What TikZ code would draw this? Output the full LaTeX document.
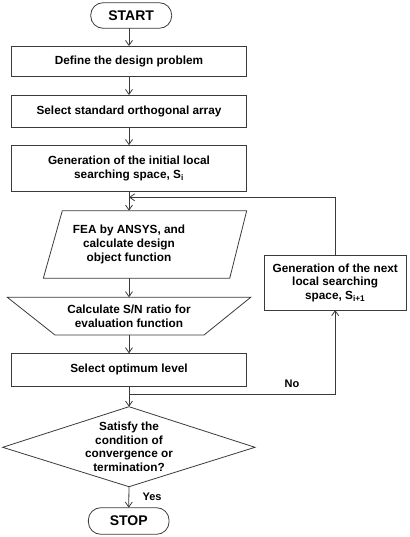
\documentclass[tikz,border=0pt]{standalone}
\usepackage{fontspec}
\setmainfont{Liberation Sans}
\usetikzlibrary{arrows.meta,calc}
\definecolor{linec}{HTML}{3A3A3A}
\begin{document}
\begin{tikzpicture}[x=1pt,y=-1pt,
  line width=0.8pt,
  every node/.style={font=\bfseries\fontsize{11.8}{13.6}\selectfont, align=center, inner sep=0pt, outer sep=0pt, text=black},
  proc/.style={draw=linec, minimum width=234.4pt},
  term/.style={draw=linec, rounded corners=12.5pt, font=\bfseries\fontsize{14}{16}\selectfont},
  holder/.style={draw=none},
  shp/.style={draw=linec},
  lbl/.style={font=\bfseries\fontsize{11}{13}\selectfont},
  arr/.style={draw=linec, -{Straight Barb[length=5pt,width=7pt]}},
  ln/.style={draw=linec},
]
\useasboundingbox (0,0) rectangle (409,537);

% shapes drawn directly
\draw[shp] (62.3,210.7) -- (246.7,210.7) -- (229.7,278.3) -- (43.3,278.3) -- cycle;
\draw[shp] (7.3,297.3) -- (250.7,297.3) -- (204,335) -- (55,335) -- cycle;
\draw[shp] (129,406.7) -- (255,447.3) -- (129,486.7) -- (2.7,447.3) -- cycle;

% nodes
\node[term, minimum width=81pt, minimum height=25.6pt] (start) at (131.2,15.5) {START};
\node[proc, minimum height=30.7pt] (b1) at (129,61.4) {Define the design problem};
\node[proc, minimum height=32.3pt] (b2) at (129,111.2) {Select standard orthogonal array};
\node[proc, minimum height=46.7pt] (b3) at (129,168.5) {Generation of the initial local\\searching space, S\textsubscript{i}};
\node[holder, minimum height=67.6pt] (fea) at (129,244.5) {FEA by ANSYS, and\\calculate design\\object function};
\node[holder, minimum height=37.7pt] (sn) at (129,316.15) {Calculate S/N ratio for\\evaluation function};
\node[proc, minimum height=32.7pt] (opt) at (129,369.7) {Select optimum level};
\node[holder, minimum height=80pt, text depth=0pt] (dec) at (129,446.7) {Satisfy the\\condition of\\convergence or\\termination?};
\node[term, minimum width=80.7pt, minimum height=26.6pt] (stop) at (128.7,521) {STOP};
\node[proc, minimum width=141.7pt, minimum height=54.7pt] (nx) at (335.2,282.7) {Generation of the next\\local searching\\space, S\textsubscript{i+1}};

\node[lbl] (no) at (292,383.3) {No};
\node[lbl] (yes) at (152,496.7) {Yes};

\coordinate (j1) at (129,197.3);
\coordinate (j2) at (129,394.3);

% connectors
\draw[arr] (start.south -| b1.north) -- (b1.north);
\draw[arr] (b1.south) -- (b2.north);
\draw[arr] (b2.south) -- (b3.north);
\draw[arr] (b3.south) -- (fea.north);
\draw[arr] (nx.north) |- (j1);
\draw[arr] (fea.south) -- (sn.north);
\draw[arr] (sn.south) -- (opt.north);
\draw[arr] (opt.south) -- (dec.north);
\draw[arr] (j2) -| (nx.south);
\draw[arr] (dec.south) -- (stop.north);
\end{tikzpicture}
\end{document}
